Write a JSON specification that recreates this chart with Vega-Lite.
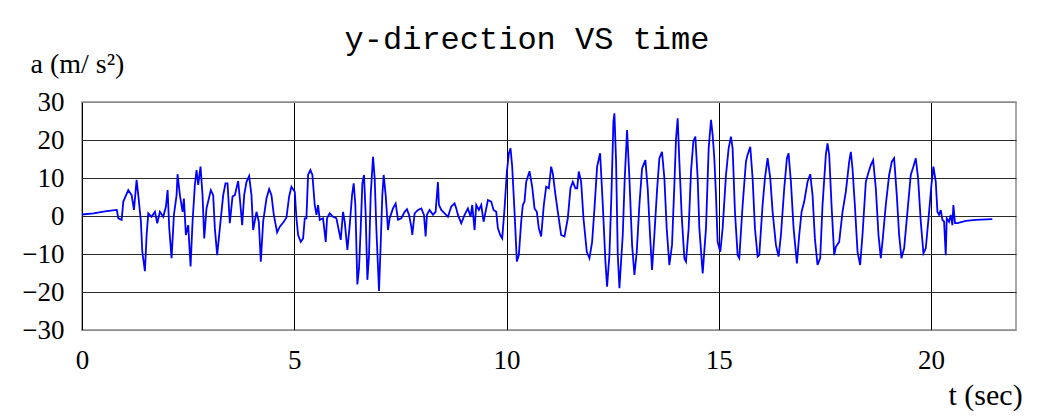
{
  "$schema": "https://vega.github.io/schema/vega-lite/v6.json",
  "width": 934,
  "height": 228,
  "autosize": {"type": "none"},
  "padding": {"left": 82, "top": 102, "right": 25, "bottom": 86},
  "background": "white",
  "title": {
    "text": "y-direction VS time",
    "font": "Liberation Mono",
    "fontSize": 32,
    "fontWeight": "normal",
    "color": "#000000",
    "anchor": "middle",
    "frame": "group",
    "dx": -22,
    "baseline": "alphabetic",
    "offset": -31
  },
  "config": {
    "view": {"stroke": "#8c8c8c", "strokeWidth": 1.5},
    "axis": {
      "labelFont": "Liberation Serif",
      "titleFont": "Liberation Serif",
      "labelColor": "#000000",
      "titleColor": "#000000",
      "titleFontWeight": "normal",
      "ticks": false,
      "domain": false
    }
  },
  "data": {
    "values": [
      {"t": 0.0, "a": 0.4}, {"t": 0.27, "a": 0.7}, {"t": 0.58, "a": 1.3}, {"t": 0.82, "a": 1.6},
      {"t": 0.855, "a": -0.6}, {"t": 0.934, "a": -1.0}, {"t": 0.973, "a": 3.8}, {"t": 1.09, "a": 6.8},
      {"t": 1.169, "a": 5.5}, {"t": 1.224, "a": 1.6}, {"t": 1.286, "a": 9.5}, {"t": 1.326, "a": 5.5},
      {"t": 1.349, "a": 2.9}, {"t": 1.388, "a": -1.5}, {"t": 1.42, "a": -9.4}, {"t": 1.482, "a": -14.5},
      {"t": 1.522, "a": -5}, {"t": 1.561, "a": 0.7}, {"t": 1.639, "a": -0.2}, {"t": 1.718, "a": 1.1},
      {"t": 1.773, "a": -1.9}, {"t": 1.835, "a": 1.1}, {"t": 1.914, "a": -0.2}, {"t": 1.977, "a": 2.5},
      {"t": 2.016, "a": 6.8}, {"t": 2.055, "a": -3.2}, {"t": 2.11, "a": -11.1}, {"t": 2.165, "a": 0.3},
      {"t": 2.228, "a": 5.5}, {"t": 2.251, "a": 11}, {"t": 2.306, "a": 5.5}, {"t": 2.369, "a": 1.1},
      {"t": 2.4, "a": 4.6}, {"t": 2.447, "a": -5}, {"t": 2.502, "a": -2.4}, {"t": 2.557, "a": -13.3},
      {"t": 2.604, "a": -1.5}, {"t": 2.659, "a": 8.2}, {"t": 2.698, "a": 12.1}, {"t": 2.737, "a": 8.2},
      {"t": 2.792, "a": 13}, {"t": 2.839, "a": 5.5}, {"t": 2.879, "a": -5.9}, {"t": 2.933, "a": 2},
      {"t": 3.035, "a": 6.8}, {"t": 3.09, "a": 5.5}, {"t": 3.129, "a": -3.2}, {"t": 3.184, "a": -10.3},
      {"t": 3.247, "a": -3.2}, {"t": 3.326, "a": 5.5}, {"t": 3.38, "a": 8.6}, {"t": 3.428, "a": 8.6},
      {"t": 3.482, "a": -1.9}, {"t": 3.545, "a": 5.1}, {"t": 3.6, "a": 5.5}, {"t": 3.678, "a": 9.2},
      {"t": 3.718, "a": 4.6}, {"t": 3.773, "a": -2.4}, {"t": 3.82, "a": 5.5}, {"t": 3.875, "a": 9},
      {"t": 3.937, "a": 10.5}, {"t": 3.992, "a": 5.5}, {"t": 4.031, "a": -3.7}, {"t": 4.11, "a": 1.1},
      {"t": 4.165, "a": -1.5}, {"t": 4.212, "a": -12}, {"t": 4.267, "a": -1.5}, {"t": 4.345, "a": 4.6},
      {"t": 4.408, "a": 7.1}, {"t": 4.463, "a": 5.5}, {"t": 4.518, "a": 0.3}, {"t": 4.596, "a": -4.3},
      {"t": 4.659, "a": -2.8}, {"t": 4.753, "a": -1.5}, {"t": 4.816, "a": -0.4}, {"t": 4.878, "a": 5.1},
      {"t": 4.933, "a": 7.7}, {"t": 5.012, "a": 6.4}, {"t": 5.051, "a": -0.6}, {"t": 5.09, "a": -5},
      {"t": 5.153, "a": -6.8}, {"t": 5.208, "a": -5.9}, {"t": 5.247, "a": -0.6}, {"t": 5.286, "a": -0.6},
      {"t": 5.325, "a": 10.8}, {"t": 5.38, "a": 12.1}, {"t": 5.427, "a": 10.8}, {"t": 5.482, "a": 2.9},
      {"t": 5.522, "a": 0.3}, {"t": 5.561, "a": 2.9}, {"t": 5.6, "a": -1}, {"t": 5.678, "a": -0.6},
      {"t": 5.741, "a": -6.8}, {"t": 5.772, "a": -0.6}, {"t": 5.835, "a": 0.7}, {"t": 5.914, "a": -0.2},
      {"t": 5.992, "a": -0.6}, {"t": 6.055, "a": -4.1}, {"t": 6.094, "a": -6.3}, {"t": 6.149, "a": 1.1},
      {"t": 6.188, "a": -1.5}, {"t": 6.251, "a": -8.9}, {"t": 6.306, "a": -2.4}, {"t": 6.361, "a": 5.5},
      {"t": 6.4, "a": 8.6}, {"t": 6.439, "a": 2.9}, {"t": 6.486, "a": -18}, {"t": 6.525, "a": -13.8},
      {"t": 6.565, "a": -3.2}, {"t": 6.604, "a": 8.6}, {"t": 6.643, "a": 10.8}, {"t": 6.682, "a": 0.3},
      {"t": 6.722, "a": -16.8}, {"t": 6.761, "a": -10.3}, {"t": 6.8, "a": 5.5}, {"t": 6.855, "a": 15.6},
      {"t": 6.894, "a": 9.9}, {"t": 6.933, "a": -3.2}, {"t": 6.996, "a": -19.7}, {"t": 7.035, "a": -7.6},
      {"t": 7.074, "a": 5.5}, {"t": 7.106, "a": 10.8}, {"t": 7.153, "a": 5.5}, {"t": 7.208, "a": -3.7},
      {"t": 7.247, "a": -0.6}, {"t": 7.325, "a": 2}, {"t": 7.388, "a": 3.3}, {"t": 7.443, "a": -1},
      {"t": 7.521, "a": -0.6}, {"t": 7.6, "a": 1.1}, {"t": 7.655, "a": 1.8}, {"t": 7.702, "a": 0.3},
      {"t": 7.757, "a": -2.8}, {"t": 7.78, "a": -5}, {"t": 7.835, "a": 0.7}, {"t": 7.914, "a": 1.6},
      {"t": 7.992, "a": 2}, {"t": 8.055, "a": 0.3}, {"t": 8.094, "a": -5.4}, {"t": 8.125, "a": 0.3},
      {"t": 8.188, "a": 1.6}, {"t": 8.267, "a": 0.3}, {"t": 8.329, "a": 1.1}, {"t": 8.384, "a": 8.9},
      {"t": 8.408, "a": 2.9}, {"t": 8.463, "a": 1.6}, {"t": 8.541, "a": 0.7}, {"t": 8.62, "a": -0.2},
      {"t": 8.698, "a": 2.5}, {"t": 8.776, "a": 3.3}, {"t": 8.816, "a": 2}, {"t": 8.855, "a": 0.3},
      {"t": 8.933, "a": -1.9}, {"t": 9.012, "a": 0.3}, {"t": 9.09, "a": 2}, {"t": 9.153, "a": -0.2},
      {"t": 9.192, "a": 2.9}, {"t": 9.247, "a": -3.7}, {"t": 9.286, "a": 2.9}, {"t": 9.349, "a": 1.6},
      {"t": 9.404, "a": 2.9}, {"t": 9.459, "a": -1.5}, {"t": 9.561, "a": 4.2}, {"t": 9.639, "a": 3.8},
      {"t": 9.694, "a": 1.6}, {"t": 9.757, "a": 1.1}, {"t": 9.796, "a": -3.2}, {"t": 9.851, "a": -5},
      {"t": 9.898, "a": -5.9}, {"t": 9.953, "a": 2}, {"t": 10.008, "a": 11.7}, {"t": 10.055, "a": 16.5},
      {"t": 10.094, "a": 17.8}, {"t": 10.133, "a": 13}, {"t": 10.188, "a": 1.1}, {"t": 10.243, "a": -12},
      {"t": 10.29, "a": -10.3}, {"t": 10.345, "a": -1.5}, {"t": 10.384, "a": 2.9}, {"t": 10.423, "a": 3.8},
      {"t": 10.463, "a": 9}, {"t": 10.541, "a": 11.8}, {"t": 10.604, "a": 7.7}, {"t": 10.659, "a": 2},
      {"t": 10.713, "a": 1.1}, {"t": 10.76, "a": -3.2}, {"t": 10.815, "a": -5.4}, {"t": 10.878, "a": 2.9},
      {"t": 10.933, "a": 7.7}, {"t": 10.996, "a": 7.3}, {"t": 11.051, "a": 13}, {"t": 11.09, "a": 11.2},
      {"t": 11.153, "a": 5.5}, {"t": 11.208, "a": 1.1}, {"t": 11.286, "a": -5}, {"t": 11.365, "a": -5.4},
      {"t": 11.443, "a": -0.6}, {"t": 11.506, "a": 7.3}, {"t": 11.561, "a": 9}, {"t": 11.623, "a": 7.3},
      {"t": 11.663, "a": 7.3}, {"t": 11.702, "a": 11.7}, {"t": 11.757, "a": 9}, {"t": 11.812, "a": -0.6},
      {"t": 11.89, "a": -9.4}, {"t": 11.953, "a": -11.1}, {"t": 12.016, "a": -6.8}, {"t": 12.071, "a": 2},
      {"t": 12.133, "a": 13}, {"t": 12.204, "a": 16.5}, {"t": 12.267, "a": 2.9}, {"t": 12.329, "a": -12},
      {"t": 12.368, "a": -18.6}, {"t": 12.423, "a": -10.3}, {"t": 12.47, "a": 5.5}, {"t": 12.517, "a": 24.8},
      {"t": 12.541, "a": 27}, {"t": 12.58, "a": 14.3}, {"t": 12.62, "a": -10.3}, {"t": 12.659, "a": -19},
      {"t": 12.737, "a": -5}, {"t": 12.784, "a": 9.9}, {"t": 12.839, "a": 22.6}, {"t": 12.894, "a": 9.9},
      {"t": 12.957, "a": -7.6}, {"t": 13.012, "a": -15.5}, {"t": 13.067, "a": -9.4}, {"t": 13.129, "a": 2.9},
      {"t": 13.192, "a": 12.5}, {"t": 13.27, "a": 14.7}, {"t": 13.325, "a": 7.3}, {"t": 13.38, "a": -5},
      {"t": 13.427, "a": -14.2}, {"t": 13.482, "a": -5}, {"t": 13.545, "a": 6.8}, {"t": 13.6, "a": 15.2},
      {"t": 13.662, "a": 16.9}, {"t": 13.718, "a": 9.9}, {"t": 13.772, "a": -3.2}, {"t": 13.835, "a": -12.9},
      {"t": 13.898, "a": -7.6}, {"t": 13.953, "a": 8.2}, {"t": 13.992, "a": 20.4}, {"t": 14.031, "a": 25.7},
      {"t": 14.071, "a": 14.3}, {"t": 14.125, "a": 0.3}, {"t": 14.188, "a": -11.1}, {"t": 14.227, "a": -12},
      {"t": 14.29, "a": -3.2}, {"t": 14.345, "a": 11.7}, {"t": 14.4, "a": 19.6}, {"t": 14.447, "a": 20.9},
      {"t": 14.502, "a": 9.9}, {"t": 14.541, "a": -3.2}, {"t": 14.62, "a": -15.1}, {"t": 14.698, "a": -3.2},
      {"t": 14.761, "a": 17.8}, {"t": 14.816, "a": 25.3}, {"t": 14.855, "a": 21.3}, {"t": 14.894, "a": 15.2},
      {"t": 14.933, "a": 5.5}, {"t": 14.972, "a": -6.8}, {"t": 15.035, "a": -9.4}, {"t": 15.09, "a": -3.2},
      {"t": 15.169, "a": 10.8}, {"t": 15.231, "a": 17.8}, {"t": 15.286, "a": 20.9}, {"t": 15.325, "a": 17.8},
      {"t": 15.38, "a": 1.1}, {"t": 15.443, "a": -10.3}, {"t": 15.482, "a": -11.1}, {"t": 15.561, "a": 2.9},
      {"t": 15.639, "a": 14.3}, {"t": 15.678, "a": 16.1}, {"t": 15.741, "a": 18.2}, {"t": 15.796, "a": 9.9},
      {"t": 15.851, "a": -3.2}, {"t": 15.914, "a": -10.7}, {"t": 15.953, "a": -10.3}, {"t": 16.031, "a": 2.9},
      {"t": 16.086, "a": 9.9}, {"t": 16.149, "a": 15.2}, {"t": 16.212, "a": 9.9}, {"t": 16.267, "a": 1.1},
      {"t": 16.345, "a": -7.6}, {"t": 16.408, "a": -10.7}, {"t": 16.463, "a": -5}, {"t": 16.541, "a": 7.3},
      {"t": 16.604, "a": 15.2}, {"t": 16.643, "a": 16.5}, {"t": 16.698, "a": 9}, {"t": 16.761, "a": -3.2},
      {"t": 16.839, "a": -12.5}, {"t": 16.894, "a": -5}, {"t": 16.949, "a": 1.1}, {"t": 17.012, "a": 3.8},
      {"t": 17.09, "a": 9}, {"t": 17.153, "a": 11}, {"t": 17.208, "a": 5.5}, {"t": 17.263, "a": -5.9},
      {"t": 17.325, "a": -12.9}, {"t": 17.388, "a": -11.1}, {"t": 17.443, "a": 2.9}, {"t": 17.521, "a": 16.1},
      {"t": 17.561, "a": 19.1}, {"t": 17.6, "a": 16.1}, {"t": 17.655, "a": 2.9}, {"t": 17.718, "a": -10.3},
      {"t": 17.757, "a": -8.1}, {"t": 17.835, "a": -6.8}, {"t": 17.914, "a": 1.1}, {"t": 17.992, "a": 6.4},
      {"t": 18.071, "a": 14.3}, {"t": 18.11, "a": 16.9}, {"t": 18.149, "a": 12.5}, {"t": 18.204, "a": 2.9},
      {"t": 18.267, "a": -9.4}, {"t": 18.329, "a": -12.9}, {"t": 18.384, "a": -5}, {"t": 18.463, "a": 9},
      {"t": 18.518, "a": 11.2}, {"t": 18.58, "a": 13.4}, {"t": 18.635, "a": 14.7}, {"t": 18.698, "a": 7.3},
      {"t": 18.761, "a": -5}, {"t": 18.816, "a": -11.1}, {"t": 18.855, "a": -6.8}, {"t": 18.933, "a": 2.9},
      {"t": 19.012, "a": 10.8}, {"t": 19.075, "a": 14.3}, {"t": 19.129, "a": 15.2}, {"t": 19.192, "a": 5.5},
      {"t": 19.247, "a": -5}, {"t": 19.302, "a": -11.1}, {"t": 19.365, "a": -8.5}, {"t": 19.443, "a": 1.1},
      {"t": 19.521, "a": 10.8}, {"t": 19.584, "a": 13}, {"t": 19.639, "a": 15.2}, {"t": 19.694, "a": 9.9},
      {"t": 19.757, "a": -1.5}, {"t": 19.82, "a": -9.8}, {"t": 19.875, "a": -8.5}, {"t": 19.953, "a": 1.1},
      {"t": 20.008, "a": 8.2}, {"t": 20.055, "a": 13}, {"t": 20.11, "a": 9}, {"t": 20.149, "a": 1.1},
      {"t": 20.188, "a": 0.3}, {"t": 20.227, "a": 1.6}, {"t": 20.267, "a": -1}, {"t": 20.306, "a": -1.5},
      {"t": 20.345, "a": -10.3}, {"t": 20.369, "a": -0.6}, {"t": 20.424, "a": -1.5}, {"t": 20.463, "a": 0.3},
      {"t": 20.502, "a": -2.4}, {"t": 20.525, "a": 2.9}, {"t": 20.565, "a": -1.9}, {"t": 20.62, "a": -1.9},
      {"t": 20.816, "a": -1.3}, {"t": 21.051, "a": -1}, {"t": 21.443, "a": -0.8}
    ]
  },
  "mark": {"type": "line", "color": "#0000ff", "strokeWidth": 1.8, "interpolate": "linear"},
  "encoding": {
    "x": {
      "field": "t",
      "type": "quantitative",
      "scale": {"domain": [0, 22], "nice": false, "zero": false},
      "axis": {
        "values": [0, 5, 10, 15, 20],
        "title": "t (sec)",
        "titleFontSize": 30,
        "titleAlign": "left",
        "titleBaseline": "alphabetic",
        "titleAnchor": "start",
        "titleX": 866,
        "titleY": 74,
        "labelFontSize": 27,
        "labelPadding": 17,
        "labelFlush": false,
        "labelBaseline": "top",
        "grid": true,
        "gridColor": "#000000",
        "gridWidth": 1,
        "format": "d"
      }
    },
    "y": {
      "field": "a",
      "type": "quantitative",
      "scale": {"domain": [-30, 30], "nice": false},
      "axis": {
        "values": [-30, -20, -10, 0, 10, 20, 30],
        "title": "a (m/ s²)",
        "titleFontSize": 28,
        "titleAngle": 0,
        "titleAlign": "left",
        "titleBaseline": "alphabetic",
        "titleAnchor": "start",
        "titleX": -52,
        "titleY": -30,
        "labelFontSize": 27,
        "labelPadding": 18,
        "labelBaseline": "middle",
        "grid": true,
        "gridColor": {"condition": {"test": "abs(datum.value) == 30", "value": "#8c8c8c"}, "value": "#2a2a2a"},
        "gridWidth": 1.2,
        "format": "d"
      }
    }
  }
}
